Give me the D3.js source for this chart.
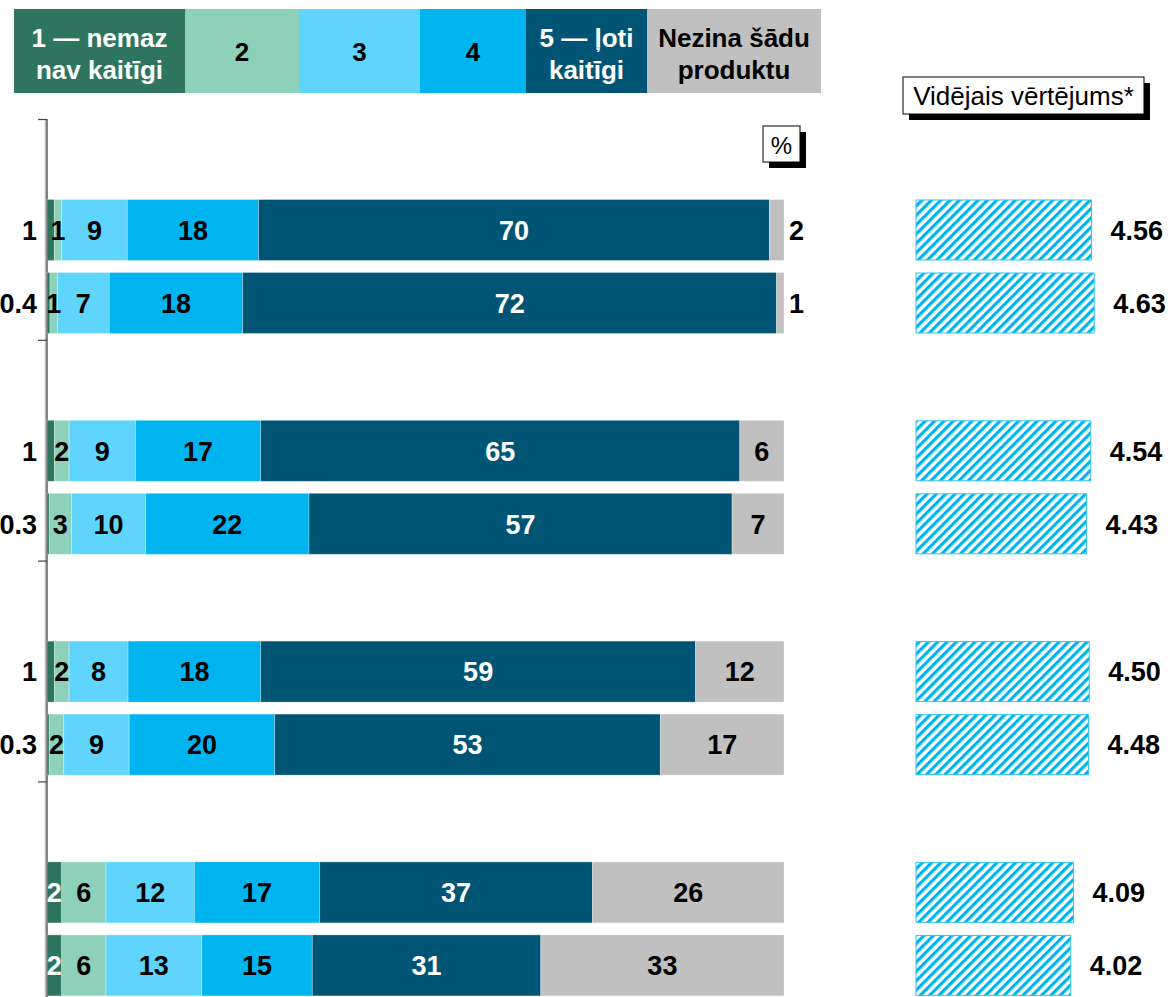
<!DOCTYPE html>
<html>
<head>
<meta charset="utf-8">
<script src="https://cdn.jsdelivr.net/npm/d3@7"></script>
<style>
  body { margin: 0; background: #fff; }
  text { font-family: "Liberation Sans", Arial, sans-serif; }
</style>
</head>
<body>
<svg id="chart"></svg>
<script>
// answer scale (legend order)
const keys = ["s1", "s2", "s3", "s4", "s5", "dk"];
const keyLabels = [["1 — nemaz", "nav kaitīgi"], ["2"], ["3"], ["4"], ["5 — ļoti", "kaitīgi"], ["Nezina šādu", "produktu"]];

// four question groups, two rows each
const groups = ["g1", "g2", "g3", "g4"];
const rows = ["g1a", "g1b", "g2a", "g2b", "g3a", "g3b", "g4a", "g4b"];

// % shares per answer, one entry per row
const s1 = [1, 0.4, 1, 0.3, 1, 0.3, 2, 2];
const s2 = [1, 1, 2, 3, 2, 2, 6, 6];
const s3 = [9, 7, 9, 10, 8, 9, 12, 13];
const s4 = [18, 18, 17, 22, 18, 20, 17, 15];
const s5 = [70, 72, 65, 57, 59, 53, 37, 31];
const dk = [2, 1, 6, 7, 12, 17, 26, 33];

// average score per row
const averages = [4.56, 4.63, 4.54, 4.43, 4.50, 4.48, 4.09, 4.02];

const W = 1171, H = 997;
const colors = ["#2e7560", "#8dd1bb", "#5fd5fe", "#00b4ef", "#005574", "#c0c0c0"];
const labelColors = ["#fff", "#000", "#000", "#000", "#fff", "#000"];
const legendEdges = [14, 185, 299, 420, 526, 647, 821];

const svg = d3.select("#chart").attr("width", W).attr("height", H);

// build table for stacking
const series = { s1, s2, s3, s4, s5, dk };
const table = rows.map((r, i) => {
  const o = { row: r, group: groups[Math.floor(i / 2)], sub: i % 2 === 0 ? "a" : "b", avg: averages[i] };
  keys.forEach(k => o[k] = series[k][i]);
  o.total = d3.sum(keys, k => o[k]);
  return o;
});
// normalise so every bar fills the full width
const normTable = table.map(d => {
  const o = Object.assign({}, d);
  keys.forEach(k => o[k] = d[k] / d.total * 100);
  return o;
});
const stacked = d3.stack().keys(keys)(normTable);

// scales
const x = d3.scaleLinear().domain([0, 100]).range([47, 784]);
const y0 = d3.scaleBand().domain(groups).range([119.5, 119.5 + 4 * 220.8]);
const y1 = d3.scaleBand().domain(["a", "b"]).range([80, 214]).paddingInner(0.1644);
const yRow = d => y0(d.group) + y1(d.sub);
const xAvg = d3.scaleLinear().domain([0, 5]).range([916, 1108.5]);

// hatch pattern for averages
const defs = svg.append("defs");
const pat = defs.append("pattern")
  .attr("id", "hatch")
  .attr("patternUnits", "userSpaceOnUse")
  .attr("width", 6.6).attr("height", 6.6)
  .attr("patternTransform", "rotate(45)");
pat.append("rect").attr("width", 6.6).attr("height", 6.6).attr("fill", "#fff");
pat.append("rect").attr("x", 0).attr("width", 3.2).attr("height", 6.6).attr("fill", "#00b4ef");

// legend
const leg = svg.append("g").attr("class", "legend");
keys.forEach((k, i) => {
  const x0 = legendEdges[i], x1 = legendEdges[i + 1];
  leg.append("rect")
    .attr("x", x0).attr("y", 9).attr("width", x1 - x0).attr("height", 84)
    .attr("fill", colors[i]);
  const lines = keyLabels[i];
  const t = leg.append("text")
    .attr("text-anchor", "middle")
    .attr("font-weight", "bold")
    .attr("font-size", 26)
    .attr("fill", labelColors[i]);
  lines.forEach((ln, j) => {
    t.append("tspan")
      .attr("x", (x0 + x1) / 2)
      .attr("y", lines.length === 1 ? 61 : 47 + j * 32)
      .text(ln);
  });
});

// left axis
const axisG = svg.append("g");
axisG.append("line")
  .attr("x1", 45.5).attr("x2", 45.5).attr("y1", 119).attr("y2", H)
  .attr("stroke", "#bbb").attr("stroke-width", 1.5);
axisG.append("line")
  .attr("x1", 47).attr("x2", 47).attr("y1", 119).attr("y2", H)
  .attr("stroke", "#333").attr("stroke-width", 1.2);
groups.forEach(g => {
  axisG.append("line")
    .attr("x1", 38).attr("x2", 47)
    .attr("y1", y0(g)).attr("y2", y0(g))
    .attr("stroke", "#444").attr("stroke-width", 1.2);
});

// stacked bars
const chart = svg.append("g");
chart.selectAll("g.layer")
  .data(stacked)
  .join("g")
  .attr("class", "layer")
  .attr("fill", (d, i) => colors[i])
  .selectAll("rect")
  .data(d => d)
  .join("rect")
  .attr("x", d => x(d[0]))
  .attr("y", d => yRow(d.data))
  .attr("width", d => x(d[1]) - x(d[0]))
  .attr("height", y1.bandwidth())
  .attr("stroke", "#fff").attr("stroke-opacity", 0.35).attr("stroke-width", 0.8);

// segment labels
stacked.forEach((layer, li) => {
  layer.forEach((d, ri) => {
    const raw = table[ri][keys[li]];
    let tx = (x(d[0]) + x(d[1])) / 2, anchor = "middle", fill = labelColors[li];
    if (li === 0 && raw < 2) { tx = 37; anchor = "end"; fill = "#000"; }
    if (li === 5 && raw < 3) { tx = 789; anchor = "start"; fill = "#000"; }
    chart.append("text")
      .attr("x", tx)
      .attr("y", yRow(d.data) + y1.bandwidth() / 2)
      .attr("dy", "0.36em")
      .attr("text-anchor", anchor)
      .attr("font-weight", "bold")
      .attr("font-size", 27)
      .attr("fill", fill)
      .text(raw);
  });
});

// % box with shadow
svg.append("rect").attr("x", 769).attr("y", 132).attr("width", 37).attr("height", 36).attr("fill", "#000");
svg.append("rect").attr("x", 763).attr("y", 126).attr("width", 37).attr("height", 36)
  .attr("fill", "#fff").attr("stroke", "#000").attr("stroke-width", 1);
svg.append("text").attr("x", 781.5).attr("y", 154).attr("text-anchor", "middle")
  .attr("font-size", 24).text("%");

// average title box with shadow
svg.append("rect").attr("x", 909).attr("y", 83).attr("width", 241).attr("height", 37).attr("fill", "#000");
svg.append("rect").attr("x", 903).attr("y", 77).attr("width", 241).attr("height", 37)
  .attr("fill", "#fff").attr("stroke", "#000").attr("stroke-width", 1);
svg.append("text").attr("x", 1023.5).attr("y", 105).attr("text-anchor", "middle")
  .attr("font-size", 26).text("Vidējais vērtējums*");

// average bars
const avgG = svg.append("g");
avgG.selectAll("rect")
  .data(table)
  .join("rect")
  .attr("x", xAvg(0))
  .attr("y", d => yRow(d) + 0.5)
  .attr("width", d => xAvg(d.avg) - xAvg(0))
  .attr("height", y1.bandwidth() - 1)
  .attr("fill", "url(#hatch)")
  .attr("stroke", "#33c3f2").attr("stroke-width", 1);
avgG.selectAll("text")
  .data(table)
  .join("text")
  .attr("x", d => xAvg(d.avg) + 19)
  .attr("y", d => yRow(d) + y1.bandwidth() / 2)
  .attr("dy", "0.36em")
  .attr("font-weight", "bold")
  .attr("font-size", 27)
  .text(d => d3.format(".2f")(d.avg));
</script>
</body>
</html>
